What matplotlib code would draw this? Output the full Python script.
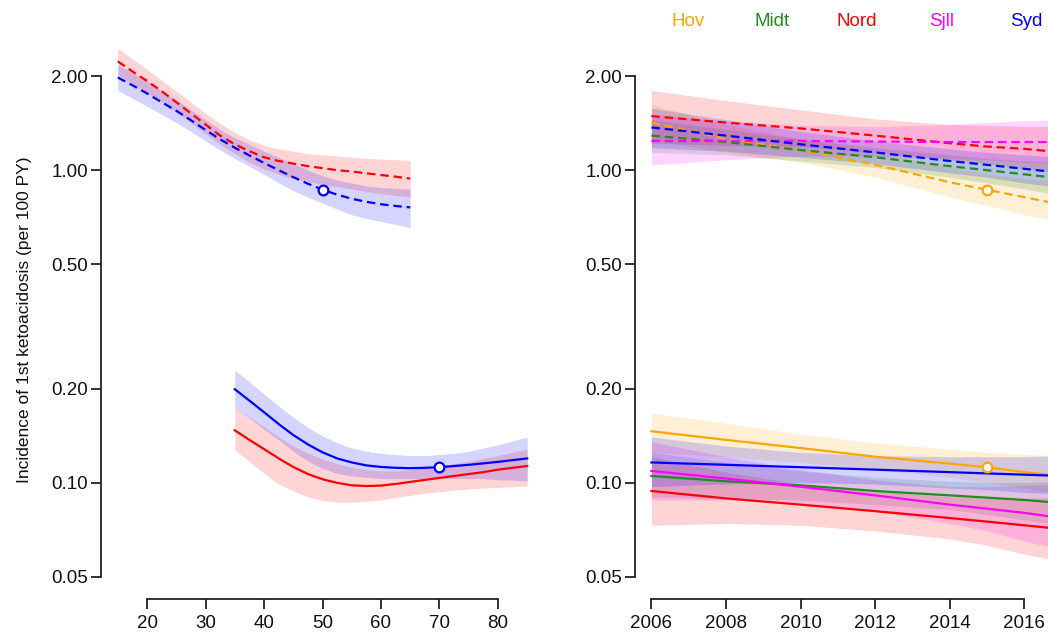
import matplotlib.pyplot as plt
from matplotlib.ticker import FixedLocator, NullLocator

plt.rcParams["font.family"] = ["Liberation Sans", "DejaVu Sans"]

# --- age panel -------------------------------------------------------------
age_dash = [15, 17.5, 20, 22.5, 25, 27.5, 30, 32.5, 35, 37.5, 40,
            42.5, 45, 47.5, 50, 52.5, 55, 57.5, 60, 62.5, 65]
age_solid = [35, 37.5, 40, 42.5, 45, 47.5, 50, 52.5, 55, 57.5, 60,
             62.5, 65, 67.5, 70, 72.5, 75, 77.5, 80, 82.5, 85]

red_dash = [2.23, 2.07, 1.93, 1.79, 1.65, 1.52, 1.40, 1.29, 1.21, 1.15, 1.10,
            1.07, 1.05, 1.03, 1.015, 1.00, 0.99, 0.977, 0.965, 0.953, 0.94]
red_dash_lo = [2.02, 1.89, 1.77, 1.65, 1.53, 1.42, 1.31, 1.21, 1.13, 1.06, 1.01,
               0.97, 0.94, 0.92, 0.90, 0.885, 0.87, 0.855, 0.84, 0.83, 0.82]
red_dash_hi = [2.46, 2.27, 2.10, 1.94, 1.79, 1.65, 1.52, 1.41, 1.32, 1.25, 1.20,
               1.17, 1.15, 1.13, 1.12, 1.11, 1.10, 1.09, 1.085, 1.08, 1.075]
blue_dash = [1.98, 1.87, 1.76, 1.65, 1.55, 1.445, 1.345, 1.255, 1.18, 1.115, 1.055,
             1.00, 0.95, 0.905, 0.866, 0.835, 0.81, 0.792, 0.778, 0.768, 0.76]
blue_dash_lo = [1.80, 1.70, 1.60, 1.51, 1.42, 1.33, 1.24, 1.16, 1.09, 1.03, 0.97,
                0.91, 0.86, 0.82, 0.785, 0.75, 0.72, 0.70, 0.685, 0.67, 0.655]
blue_dash_hi = [2.17, 2.05, 1.93, 1.80, 1.68, 1.56, 1.45, 1.35, 1.27, 1.21, 1.15,
                1.10, 1.05, 1.00, 0.96, 0.93, 0.91, 0.89, 0.88, 0.875, 0.87]

red_solid = [0.147, 0.137, 0.128, 0.1195, 0.1122, 0.1065, 0.1025, 0.0998, 0.098, 0.0975, 0.0978,
             0.099, 0.1005, 0.102, 0.1035, 0.105, 0.1065, 0.108, 0.110, 0.1115, 0.113]
red_solid_lo = [0.127, 0.117, 0.107, 0.099, 0.094, 0.090, 0.0875, 0.0865, 0.0865, 0.087, 0.088,
                0.0895, 0.091, 0.0925, 0.0935, 0.0945, 0.0955, 0.096, 0.0965, 0.097, 0.0975]
red_solid_hi = [0.173, 0.162, 0.151, 0.140, 0.131, 0.124, 0.119, 0.115, 0.112, 0.110, 0.109,
                0.109, 0.110, 0.1115, 0.113, 0.115, 0.117, 0.1195, 0.122, 0.125, 0.128]
blue_solid = [0.199, 0.183, 0.168, 0.154, 0.142, 0.1325, 0.125, 0.1195, 0.116, 0.1135, 0.1122,
              0.1115, 0.1112, 0.1115, 0.112, 0.113, 0.114, 0.1152, 0.1165, 0.118, 0.1195]
blue_solid_lo = [0.173, 0.161, 0.148, 0.137, 0.126, 0.117, 0.111, 0.107, 0.105, 0.104, 0.103,
                 0.103, 0.103, 0.103, 0.103, 0.103, 0.103, 0.103, 0.102, 0.102, 0.101]
blue_solid_hi = [0.229, 0.210, 0.192, 0.176, 0.162, 0.150, 0.141, 0.134, 0.129, 0.126, 0.124,
                 0.123, 0.122, 0.122, 0.123, 0.124, 0.126, 0.129, 0.132, 0.136, 0.140]

# --- calendar-year panel, by region ---------------------------------------
regions = ["Hov", "Midt", "Nord", "Sjll", "Syd"]
region_colors = ["#FFA500", "#228B22", "#FF0000", "#FF00FF", "#0000FF"]
years = [2006, 2008, 2010, 2012, 2014, 2015, 2016, 2017]

hov_dash = [1.42, 1.26, 1.16, 1.04, 0.915, 0.865, 0.82, 0.775]
hov_dash_lo = [1.25, 1.14, 1.06, 0.95, 0.82, 0.77, 0.72, 0.68]
hov_dash_hi = [1.62, 1.40, 1.26, 1.14, 1.02, 0.97, 0.94, 0.92]
midt_dash = [1.29, 1.23, 1.16, 1.10, 1.03, 1.00, 0.97, 0.94]
midt_dash_lo = [1.14, 1.12, 1.07, 1.02, 0.95, 0.91, 0.87, 0.83]
midt_dash_hi = [1.45, 1.35, 1.26, 1.18, 1.12, 1.09, 1.07, 1.06]
nord_dash = [1.49, 1.42, 1.36, 1.29, 1.22, 1.19, 1.17, 1.14]
nord_dash_lo = [1.22, 1.20, 1.19, 1.14, 1.08, 1.05, 1.01, 0.98]
nord_dash_hi = [1.80, 1.67, 1.56, 1.46, 1.40, 1.39, 1.38, 1.38]
sjll_dash = [1.24, 1.24, 1.24, 1.235, 1.23, 1.23, 1.23, 1.23]
sjll_dash_lo = [1.04, 1.08, 1.11, 1.11, 1.09, 1.08, 1.06, 1.05]
sjll_dash_hi = [1.50, 1.44, 1.39, 1.38, 1.40, 1.42, 1.44, 1.45]
syd_dash = [1.37, 1.29, 1.21, 1.14, 1.07, 1.04, 1.01, 0.98]
syd_dash_lo = [1.18, 1.15, 1.10, 1.05, 0.98, 0.95, 0.91, 0.88]
syd_dash_hi = [1.58, 1.45, 1.33, 1.24, 1.17, 1.14, 1.12, 1.10]

hov_solid = [0.146, 0.137, 0.129, 0.121, 0.115, 0.112, 0.108, 0.105]
hov_solid_lo = [0.125, 0.121, 0.116, 0.110, 0.104, 0.100, 0.096, 0.092]
hov_solid_hi = [0.167, 0.155, 0.143, 0.134, 0.128, 0.125, 0.123, 0.122]
midt_solid = [0.105, 0.101, 0.098, 0.094, 0.091, 0.0895, 0.088, 0.086]
midt_solid_lo = [0.090, 0.089, 0.088, 0.085, 0.082, 0.079, 0.076, 0.073]
midt_solid_hi = [0.125, 0.116, 0.109, 0.104, 0.101, 0.100, 0.100, 0.101]
nord_solid = [0.094, 0.089, 0.085, 0.081, 0.077, 0.075, 0.073, 0.071]
nord_solid_lo = [0.073, 0.074, 0.073, 0.070, 0.066, 0.063, 0.059, 0.056]
nord_solid_hi = [0.121, 0.108, 0.099, 0.094, 0.090, 0.089, 0.089, 0.090]
sjll_solid = [0.109, 0.103, 0.097, 0.091, 0.085, 0.0825, 0.080, 0.077]
sjll_solid_lo = [0.088, 0.088, 0.086, 0.081, 0.074, 0.070, 0.065, 0.061]
sjll_solid_hi = [0.135, 0.121, 0.110, 0.102, 0.097, 0.097, 0.098, 0.099]
syd_solid = [0.116, 0.114, 0.112, 0.110, 0.108, 0.107, 0.106, 0.105]
syd_solid_lo = [0.097, 0.099, 0.100, 0.099, 0.096, 0.095, 0.093, 0.092]
syd_solid_hi = [0.140, 0.131, 0.125, 0.122, 0.121, 0.121, 0.121, 0.122]

y_ticks = [0.05, 0.10, 0.20, 0.50, 1.00, 2.00]

AXIS_COL = "#222222"
TEXT_COL = "#111111"
DASHES = (3.8, 2.2)
BAND_ALPHA = 0.17
W, H = 1048, 634


def style_axis(ax, xlim, xticks, xbounds):
    ax.set_yscale("log")
    ax.set_xlim(*xlim)
    ax.set_ylim(0.0424, 2.61)
    for side in ("top", "right"):
        ax.spines[side].set_visible(False)
    for side in ("left", "bottom"):
        ax.spines[side].set_color(AXIS_COL)
        ax.spines[side].set_linewidth(1.3)
    ax.spines["left"].set_bounds(0.05, 2.0)
    ax.spines["bottom"].set_bounds(*xbounds)
    ax.yaxis.set_major_locator(FixedLocator(y_ticks))
    ax.yaxis.set_minor_locator(NullLocator())
    ax.set_yticklabels([f"{t:.2f}" for t in y_ticks])
    ax.set_xticks(xticks)
    ax.set_xticklabels([str(t) for t in xticks])
    ax.tick_params(axis="both", length=7.5, width=1.3, color=AXIS_COL,
                   labelsize=13.5, labelcolor=TEXT_COL)
    ax.tick_params(axis="y", pad=2)
    ax.tick_params(axis="x", pad=4)


def draw(ax, x, y, lo, hi, color, dashed):
    ax.fill_between(x, lo, hi, color=color, alpha=BAND_ALPHA, linewidth=0)
    line, = ax.plot(x, y, color=color, linewidth=1.6)
    if dashed:
        line.set_dashes(DASHES)


def mark(ax, x, y, color):
    ax.plot([x], [y], marker="o", markersize=7, markerfacecolor="white",
            markeredgecolor=color, markeredgewidth=1.6, zorder=5)


fig = plt.figure(figsize=(W / 100, H / 100), dpi=100)

# left panel: incidence by age
ax1 = fig.add_axes([101.4 / W, (H - 599) / H, (543.6 - 101.4) / W, (599 - 40) / H])
style_axis(ax1, (12.2, 87.8), [20, 30, 40, 50, 60, 70, 80], (20, 80))
draw(ax1, age_dash, red_dash, red_dash_lo, red_dash_hi, "#FF0000", True)
draw(ax1, age_dash, blue_dash, blue_dash_lo, blue_dash_hi, "#0000FF", True)
draw(ax1, age_solid, red_solid, red_solid_lo, red_solid_hi, "#FF0000", False)
draw(ax1, age_solid, blue_solid, blue_solid_lo, blue_solid_hi, "#0000FF", False)
mark(ax1, age_dash[14], blue_dash[14], "#0000FF")
mark(ax1, age_solid[14], blue_solid[14], "#0000FF")
ax1.set_ylabel("Incidence of 1st ketoacidosis (per 100 PY)", fontsize=12.5,
               color=TEXT_COL, labelpad=14)

# right panel: incidence by calendar year and region (axes run past the edge)
ax2 = fig.add_axes([635 / W, (H - 599) / H, (1078 - 635) / W, (599 - 40) / H])
style_axis(ax2, (2005.56, 2017.44), [2006, 2008, 2010, 2012, 2014, 2016],
           (2006, 2016))
dash_sets = [
    (hov_dash, hov_dash_lo, hov_dash_hi),
    (midt_dash, midt_dash_lo, midt_dash_hi),
    (nord_dash, nord_dash_lo, nord_dash_hi),
    (sjll_dash, sjll_dash_lo, sjll_dash_hi),
    (syd_dash, syd_dash_lo, syd_dash_hi),
]
solid_sets = [
    (hov_solid, hov_solid_lo, hov_solid_hi),
    (midt_solid, midt_solid_lo, midt_solid_hi),
    (nord_solid, nord_solid_lo, nord_solid_hi),
    (sjll_solid, sjll_solid_lo, sjll_solid_hi),
    (syd_solid, syd_solid_lo, syd_solid_hi),
]
for color, (y, lo, hi) in zip(region_colors, dash_sets):
    draw(ax2, years, y, lo, hi, color, True)
for color, (y, lo, hi) in zip(region_colors, solid_sets):
    draw(ax2, years, y, lo, hi, color, False)
mark(ax2, years[5], hov_dash[5], "#FFA500")
mark(ax2, years[5], hov_solid[5], "#FFA500")

# region key across the top
for i, (name, color) in enumerate(zip(regions, region_colors)):
    fig.text((688 + 84.5 * i) / W, 1 - 22 / H, name, color=color,
             fontsize=13.5, ha="center", va="center")

fig.savefig("out.png", dpi=100)
plt.close(fig)
